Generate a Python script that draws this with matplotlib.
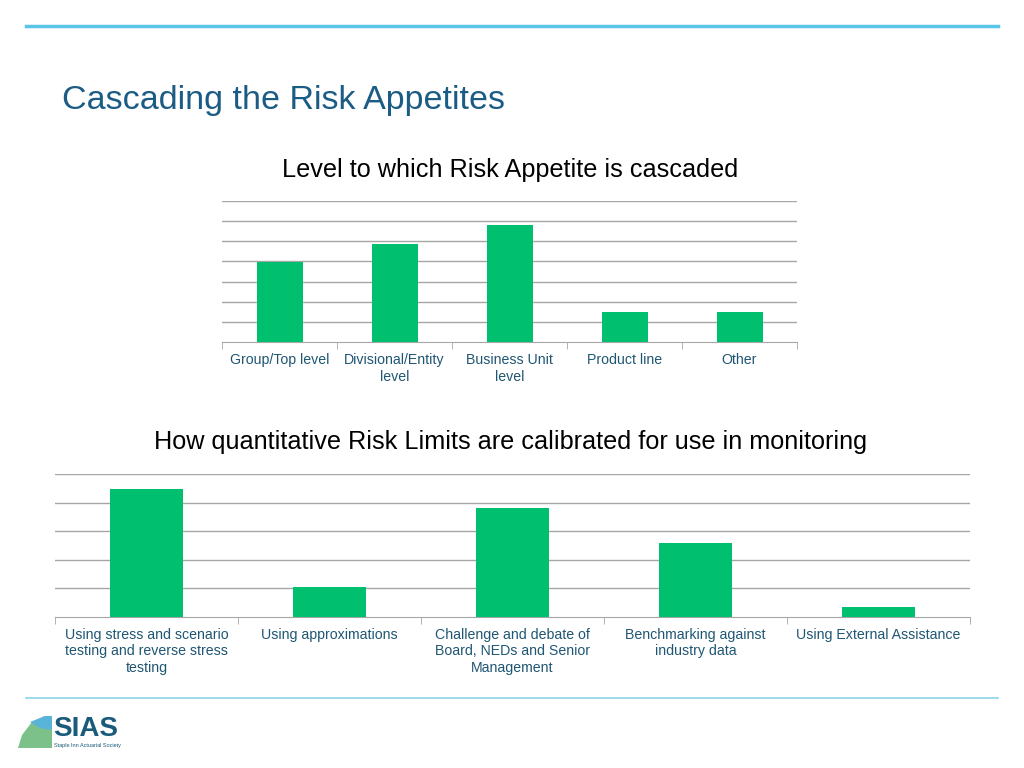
import matplotlib.pyplot as plt
from matplotlib.patches import Polygon

plt.rcParams['font.family'] = ['Liberation Sans', 'DejaVu Sans']

# data (units = gridline steps)
top_labels = ['Group/Top level', 'Divisional/Entity\nlevel', 'Business Unit\nlevel',
              'Product line', 'Other']
top_values = [3.95, 4.87, 5.8, 1.5, 1.5]

bottom_labels = ['Using stress and scenario\ntesting and reverse stress\ntesting',
                 'Using approximations',
                 'Challenge and debate of\nBoard, NEDs and Senior\nManagement',
                 'Benchmarking against\nindustry data',
                 'Using External Assistance']
bottom_values = [4.47, 1.03, 3.8, 2.59, 0.34]

green = '#00BF6F'
label_col = '#1F5673'
grid_col = '#A6A6A6'

W, H = 1024, 768
fig = plt.figure(figsize=(W / 100, H / 100), dpi=100)


def px_axes(x0, y_top, x1, y_base):
    return fig.add_axes([x0 / W, (H - y_base) / H, (x1 - x0) / W, (y_base - y_top) / H])


def bar_panel(ax, labels, values, ymax):
    x = range(len(values))
    ax.bar(x, values, width=0.4, color=green, zorder=3)
    ax.set_xlim(-0.5, len(values) - 0.5)
    ax.set_ylim(0, ymax)
    ax.set_yticks(range(1, ymax + 1))
    ax.yaxis.grid(True, color=grid_col, linewidth=1)
    ax.tick_params(axis='y', left=False, labelleft=False)
    ax.set_xticks(list(x))
    ax.set_xticklabels(labels, fontsize=10.2, color=label_col, linespacing=1.22)
    ax.tick_params(axis='x', which='major', length=0, pad=8)
    ax.set_xticks([i - 0.5 for i in range(len(values) + 1)], minor=True)
    ax.tick_params(axis='x', which='minor', length=5, color=grid_col, direction='out')
    for s in ['left', 'right', 'top']:
        ax.spines[s].set_visible(False)
    ax.spines['bottom'].set_color(grid_col)
    ax.set_axisbelow(True)


ax1 = px_axes(222, 201, 797, 342)
bar_panel(ax1, top_labels, top_values, 7)

ax2 = px_axes(55, 474, 970, 616.7)
bar_panel(ax2, bottom_labels, bottom_values, 5)

# chart titles
fig.text(510 / W, 1 - 170 / H, 'Level to which Risk Appetite is cascaded',
         ha='center', va='center', fontsize=18.2, color='black')
fig.text(511 / W, 1 - 442 / H, 'How quantitative Risk Limits are calibrated for use in monitoring',
         ha='center', va='center', fontsize=18.2, color='black')

# slide title and decoration lines
fig.text(62 / W, 1 - 101 / H, 'Cascading the Risk Appetites',
         ha='left', va='center', fontsize=24.5, color='#1B5C85')
fig.add_artist(plt.Line2D([26 / W, 998 / W], [1 - 26 / H, 1 - 26 / H],
                          color='#5BC5E8', linewidth=2.5))
fig.add_artist(plt.Line2D([26 / W, 998 / W], [1 - 698 / H, 1 - 698 / H],
                          color='#8FD3EC', linewidth=1.2))

# rough SIAS logo
logo = Polygon([(18 / W, 1 - 748 / H), (22 / W, 1 - 735 / H), (32 / W, 1 - 722 / H),
                (45 / W, 1 - 716 / H), (52 / W, 1 - 716 / H), (52 / W, 1 - 748 / H)],
               closed=True, transform=fig.transFigure, facecolor='#7CC08A', edgecolor='none')
fig.add_artist(logo)
sky = Polygon([(30 / W, 1 - 722 / H), (45 / W, 1 - 716 / H), (52 / W, 1 - 716 / H),
               (52 / W, 1 - 730 / H), (40 / W, 1 - 728 / H)],
              closed=True, transform=fig.transFigure, facecolor='#5AB3D9', edgecolor='none')
fig.add_artist(sky)
fig.text(53 / W, 1 - 729 / H, 'SIAS', ha='left', va='center', fontsize=20,
         fontweight='bold', color='#1A5A7A')
fig.text(54 / W, 1 - 746 / H, 'Staple Inn Actuarial Society', ha='left', va='center',
         fontsize=4, color='#1A5A7A')

fig.savefig('out.png', dpi=100)
